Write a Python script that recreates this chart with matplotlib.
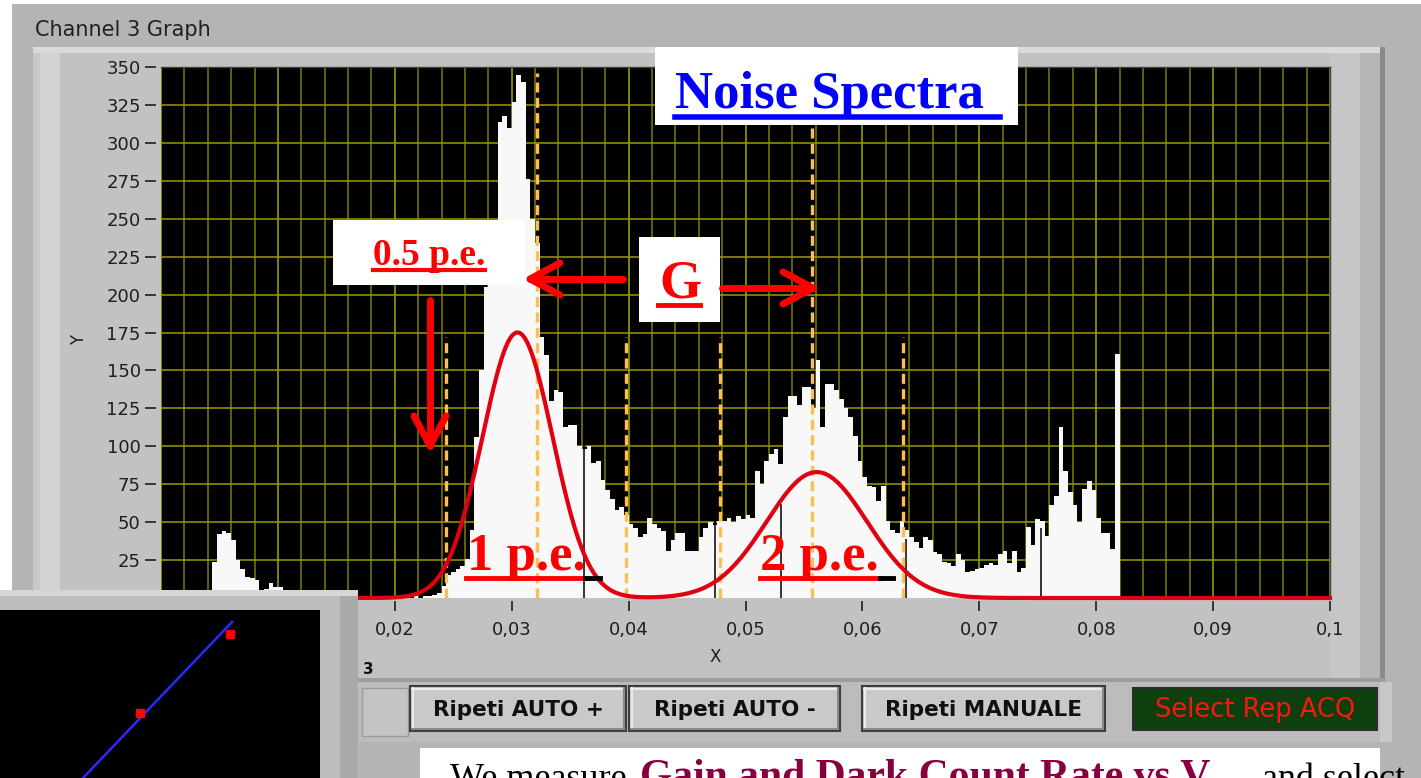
import numpy as np
import matplotlib.pyplot as plt
from matplotlib.patches import Rectangle
from matplotlib.lines import Line2D

W, H = 1421, 778

# channel 3 noise histogram: bin width 0.0004, first bin starts at 0.0044
bin_start = 0.0044
bin_width = 0.0004
counts = [24, 42, 44, 43, 38, 25, 19, 14, 13, 12, 5, 6, 10, 7, 7, 5, 3, 2, 2, 1,
          2, 1, 3, 1,
          1, 0, 1, 0, 0, 1, 0, 0, 1, 0, 0, 0, 1, 0, 0, 0, 1, 1, 0, 1, 0, 1, 1, 2, 3,
          8, 15, 17, 19, 21, 26, 45, 106, 150, 205, 225, 240, 314, 318, 310, 327,
          345, 340, 276, 250, 234, 172, 160, 130, 137, 136, 113, 114, 114, 100, 98,
          100, 89, 90, 78, 71, 65, 58, 60, 55, 49, 46, 40, 42, 53, 49, 46, 44, 31,
          38, 43, 43, 31, 31, 31, 40, 46, 50, 48, 51, 51, 53, 50, 54, 52, 55, 53,
          84, 75, 90, 95, 98, 88, 119, 133, 133, 127, 139, 139, 125, 157, 113, 141,
          141, 137, 131, 125, 119, 107, 90, 80, 74, 73, 64, 74, 51, 45, 43, 51, 45,
          40, 37, 33, 40, 38, 30, 29, 24, 23, 21, 29, 25, 17, 18, 19, 20, 22, 23,
          22, 29, 31, 23, 31, 17, 20, 47, 35, 52, 51, 41, 61, 67, 113, 84, 70, 61,
          50, 72, 77, 71, 53, 43, 43, 32, 161]
# empty channels (thin black lines through the bars)
dead_x = [0.0362, 0.0474, 0.0530, 0.0637, 0.0753]
dead_top = [112, 51, 62, 39, 46]
# gaussian fits of the 1 p.e. and 2 p.e. peaks
fit_amp = [175, 83]
fit_mean = [0.0305, 0.0561]
fit_sigma = [0.0030, 0.0043]
# cursors (orange dashed)
cursor_x = [0.0244, 0.0322, 0.0398, 0.0478, 0.0557, 0.0635]
cursor_top = [172, 346, 172, 172, 346, 172]
# small inset plot (gain vs V)
inset_px = [1.40, 2.30]
inset_py = [0.65, 1.44]
inset_lx = [0.83, 2.32]
inset_ly = [0.0, 1.56]

fig = plt.figure(figsize=(W / 100, H / 100), dpi=100)
fig.patch.set_facecolor('#b4b4b4')


def fx(x):
    return x / W


def fy(y):
    return 1 - y / H


def rect(x0, y0, x1, y1, z=-5, **kw):
    fig.patches.append(Rectangle((fx(x0), fy(y1)), (x1 - x0) / W, (y1 - y0) / H,
                                 transform=fig.transFigure, zorder=z, **kw))


def line(xs, ys, z=5, **kw):
    fig.add_artist(Line2D([fx(x) for x in xs], [fy(y) for y in ys],
                          transform=fig.transFigure, zorder=z, **kw))


def text(x, y, s, z=6, **kw):
    fig.text(fx(x), fy(y), s, zorder=z, **kw)


# ---- window chrome ----
rect(0, 0, W, 4, fc='white', lw=0)
rect(0, 0, 12, 778, fc='white', lw=0)
rect(33, 47, 1385, 682, fc='#c2c2c2', lw=0)
rect(33, 47, 1385, 53, fc='#dadada', lw=0)
rect(33, 53, 60, 682, fc='#d3d3d3', lw=0)
rect(33, 53, 40, 682, fc='#c8c8c8', lw=0)
rect(1330, 53, 1385, 682, fc='#c6c6c6', lw=0)
rect(1360, 53, 1385, 682, fc='#b6b6b6', lw=0)
rect(1380, 47, 1385, 682, fc='#8a8a8a', lw=0)
rect(358, 678, 1385, 682, fc='#9c9c9c', lw=0)
rect(358, 682, 1385, 742, fc='#bcbcbc', lw=0)
rect(1380, 682, 1392, 742, fc='#c8c8c8', lw=0)
rect(362, 688, 408, 736, fc='#c4c4c4', ec='#9a9a9a', lw=1)
text(35, 36, 'Channel 3 Graph', fontsize=15, color='#202020', family='DejaVu Sans')

# ---- main graph ----
ax = fig.add_axes([fx(161), fy(598), (1330 - 161) / W, (598 - 67) / H])
ax.set_facecolor('black')
ax.set_xlim(0, 0.1)
ax.set_ylim(0, 350)

for v in np.arange(0, 0.1001, 0.002):
    major = abs(v / 0.01 - round(v / 0.01)) < 1e-6
    ax.axvline(v, color='#a8a800' if major else '#7c7c00', lw=1.1, zorder=0)
for v in range(25, 350, 25):
    ax.axhline(v, color='#9a9a00', lw=1.1, zorder=0)

edges = bin_start + bin_width * np.arange(len(counts) + 1)
ax.stairs(counts, edges, fill=True, color='#f8f8f8', zorder=1)
ax.vlines(dead_x, 0, dead_top, color='black', lw=1.1, zorder=1.5)

for cx, ct in zip(cursor_x, cursor_top):
    ax.plot([cx, cx], [0, ct], color='#ffbe50', lw=2.4, ls=(0, (3, 1.6)), zorder=2)

xs = np.linspace(0, 0.1, 1500)
fit = np.zeros_like(xs)
for a, m, s in zip(fit_amp, fit_mean, fit_sigma):
    fit += a * np.exp(-0.5 * ((xs - m) / s) ** 2)
ax.plot(xs, fit, color='#e00010', lw=3.0, zorder=3, clip_on=False)

xt = np.arange(0, 0.1001, 0.01)
ax.set_xticks(xt)
labels = []
for v in xt:
    s = '%.2f' % v
    if s.endswith('0') and v > 0:
        s = s[:-1]
    if v == 0:
        s = '0'
    labels.append(s.replace('.', ','))
ax.set_xticklabels(labels)
ax.set_yticks(range(0, 351, 25))
ax.spines['left'].set_position(('outward', 3.6))
ax.spines['bottom'].set_position(('outward', 2.2))
ax.spines['left'].set_visible(False)
ax.spines['bottom'].set_visible(False)
for sp in ['top', 'right']:
    ax.spines[sp].set_color('#404040')
    ax.spines[sp].set_linewidth(1)
ax.tick_params(axis='y', length=8, width=1.2, pad=3, labelsize=13, colors='#1e1e1e')
ax.tick_params(axis='x', length=7.2, width=1.2, pad=7, labelsize=13, colors='#1e1e1e')
ax.set_xlabel('X', fontsize=12, color='#1e1e1e')
ax.set_ylabel('Y', fontsize=12, color='#1e1e1e')
ax.xaxis.set_label_coords((715 - 161) / 1169, (598 - 648) / 531)
ax.yaxis.set_label_coords((88 - 161) / 1169, (598 - 340) / 531)

# ---- annotations on the slide ----
serif = 'Liberation Serif'
rect(655, 47, 1018, 125, z=4, fc='white', lw=0)
text(675, 108, 'Noise Spectra', fontsize=38, color='#0000ff', family=serif,
     weight='bold', va='baseline')
line([675, 1000], [117, 117], color='#0000ff', lw=4)

rect(333, 220, 525, 285, z=4, fc='white', lw=0)
text(373, 265, '0.5 p.e.', fontsize=27, color='#ff0000', family=serif,
     weight='bold', va='baseline')
line([373, 485], [270, 270], color='#ff0000', lw=3)

rect(639, 237, 720, 322, z=4, fc='white', lw=0)
text(659, 298, 'G', fontsize=39, color='#ff0000', family=serif,
     weight='bold', va='baseline')
line([658, 700], [305, 305], color='#ff0000', lw=3.5)

text(467, 570, '1 p.e.', fontsize=38, color='#ff0000', family=serif,
     weight='bold', va='baseline')
line([466, 585], [578, 578], color='#ff0000', lw=3.5)
line([585, 600], [578, 578], color='black', lw=3.5)
text(760, 570, '2 p.e.', fontsize=38, color='#ff0000', family=serif,
     weight='bold', va='baseline')
line([760, 880], [578, 578], color='#ff0000', lw=3.5)
line([880, 893], [578, 578], color='black', lw=3.5)

arrow_kw = dict(color='#ff0000', lw=5, solid_capstyle='round', solid_joinstyle='round')
line([430, 430], [300, 446], **arrow_kw)
line([414, 430, 446], [416, 446, 416], **arrow_kw)
line([623, 530], [279, 279], **arrow_kw)
line([560, 530, 560], [263, 279, 295], **arrow_kw)
line([722, 813], [288, 288], **arrow_kw)
line([783, 813, 783], [272, 288, 304], **arrow_kw)

# ---- inset (gain plot) ----
rect(0, 590, 358, 778, z=2, fc='#bdbdbd', lw=0)
rect(0, 590, 358, 596, z=2, fc='#d6d6d6', lw=0)
rect(340, 596, 358, 778, z=2, fc='#a9a9a9', lw=0)
ins = fig.add_axes([0, 0, 320 / W, (778 - 610) / H], zorder=3)
ins.set_facecolor('black')
ins.set_xlim(0, 3.2)
ins.set_ylim(0, 1.68)
ins.plot(inset_lx, inset_ly, color='#2a2aff', lw=1.8)
ins.plot(inset_px, inset_py, 's', color='#ff0000', ms=5.5)
ins.set_xticks([])
ins.set_yticks([])
for sp in ins.spines.values():
    sp.set_visible(False)
text(363, 674, '3', fontsize=11, weight='bold', color='#101010')

# ---- buttons ----
def button(x0, y0, x1, y1, label):
    rect(x0, y0, x1, y1, z=4, fc='#c9c9c9', ec='#3c3c3c', lw=1.5)
    line([x0 + 2, x1 - 2], [y0 + 2.5, y0 + 2.5], color='#ececec', lw=1.5)
    line([x0 + 2.5, x0 + 2.5], [y0 + 2, y1 - 2], color='#ececec', lw=1.5)
    line([x0 + 2, x1 - 2], [y1 - 2.5, y1 - 2.5], color='#8a8a8a', lw=1.5)
    line([x1 - 2.5, x1 - 2.5], [y0 + 2, y1 - 2], color='#8a8a8a', lw=1.5)
    text((x0 + x1) / 2, (y0 + y1) / 2 + 1, label, fontsize=15.5, weight='bold',
         color='#101010', ha='center', va='center', family='DejaVu Sans')


button(410, 686, 626, 731, 'Ripeti AUTO +')
button(629, 686, 840, 731, 'Ripeti AUTO -')
button(862, 686, 1105, 731, 'Ripeti MANUALE')
rect(1133, 688, 1377, 730, z=4, fc='#0e3f0e', ec='#2e2e2e', lw=1.5)
text(1255, 710, 'Select Rep ACQ', fontsize=18.5, color='#ff1414', ha='center',
     va='center', family='DejaVu Sans')

# ---- text box below ----
rect(420, 748, 1380, 778, z=4, fc='white', lw=0)
text(450, 788, 'We measure', fontsize=26, family=serif, color='black', va='baseline')
text(640, 788, 'Gain and Dark Count Rate vs V', fontsize=30, family=serif,
     weight='bold', color='#85003c', va='baseline')
text(1262, 788, 'and select', fontsize=26, family=serif, color='black', va='baseline')

fig.savefig('out.png', dpi=100, facecolor=fig.get_facecolor())
